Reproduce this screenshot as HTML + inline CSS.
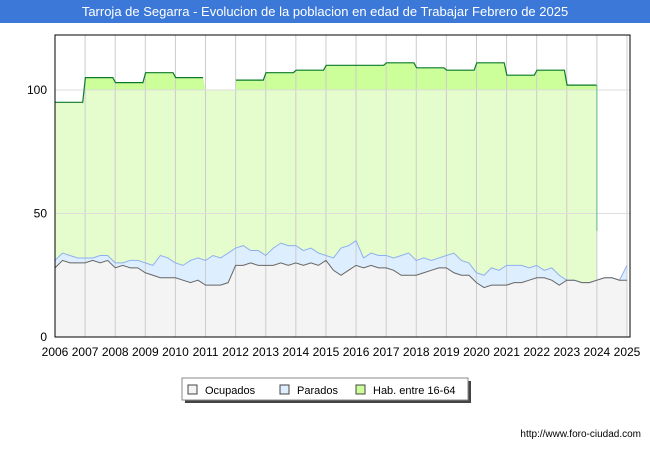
<!DOCTYPE html>
<html><head><meta charset="utf-8"><style>
body{margin:0;background:#fff;font-family:"Liberation Sans",sans-serif}
#wrap{position:relative;width:650px;height:450px;overflow:hidden}
#title{position:absolute;left:0;top:0;width:650px;height:23px;background:#3b78d8;color:#fff;font-size:13px;line-height:23px;text-align:center}
</style></head><body>
<div id="wrap">
<div id="title">Tarroja de Segarra - Evolucion de la poblacion en edad de Trabajar Febrero de 2025</div>
<svg id="svg" width="650" height="450" style="position:absolute;left:0;top:0"></svg>
</div>
<script>
const years=[2006,2007,2008,2009,2010,2011,2012,2013,2014,2015,2016,2017,2018,2019,2020,2021,2022,2023,2024,2025];
const yTicks=[0,50,100];
const habVals=[95,105,103,107,105,null,104,107,108,110,110,111,109,108,111,106,108,102];
const ocupadosVals=[28,31,30,30,30,31,30,31,28,29,28,28,26,25,24,24,24,23,22,23,21,21,21,22,29,29,30,29,29,29,30,29,30,29,30,29,31,27,25,27,29,28,29,28,28,27,25,25,25,26,27,28,28,26,25,25,22,20,21,21,21,22,22,23,24,24,23,21,23,23,22,22,23,24,24,23,23];
const paradosVals=[3,3,3,2,2,1,3,2,2,1,3,3,4,4,9,8,6,6,9,9,10,12,11,12,7,8,5,6,4,7,8,8,7,6,6,5,2,5,11,10,10,4,5,5,5,5,8,9,6,6,4,4,5,8,6,5,4,5,7,6,8,7,7,5,5,3,5,4,0,0,0,0,0,0,0,0,6];
const NS='http://www.w3.org/2000/svg';
const svg=document.getElementById('svg');
const L=55,R=630,T=35,B=337;
const x=v=>L+(v-2006)*(627-55)/19;
const y=v=>B-v*2.47;
function mk(tag,attrs,parent){const e=document.createElementNS(NS,tag);for(const k in attrs)e.setAttribute(k,attrs[k]);(parent||svg).appendChild(e);return e;}
mk('rect',{x:L,y:T,width:R-L,height:B-T,fill:'#fff'});
const defs=mk('defs',{});
const cp=mk('clipPath',{id:'above'},defs);mk('rect',{x:L,y:T,width:R-L,height:y(100)-T},cp);
const cp2=mk('clipPath',{id:'below'},defs);mk('rect',{x:L,y:y(100),width:R-L,height:B-y(100)},cp2);
let pts=[],segs=[],cur=[];
habVals.forEach((v,i)=>{const yr=years[i];
 if(v===null){pts.push([yr,100],[yr+1,100]);if(cur.length){segs.push(cur);cur=[];}return;}
 pts.push([yr+0.01,v],[yr+0.92,v]);cur.push([yr+0.01,v],[yr+0.92,v]);});
const lastH=habVals[habVals.length-1];
pts.push([2023.99,lastH],[2024.0,43]);cur.push([2023.99,lastH]);segs.push(cur);
const areaD='M'+x(2006)+','+B+' '+pts.map(p=>'L'+x(p[0]).toFixed(1)+','+y(p[1]).toFixed(1)).join(' ')+' L'+x(2024)+','+B+'Z';
const a1=mk('path',{d:areaD,fill:'#e5fdcc','clip-path':'url(#below)'});

const a2=mk('path',{d:areaD,fill:'#ccff99','clip-path':'url(#above)'});

const n=ocupadosVals.length;
const qx=i=>x(2006+i/4);
let topPts=[],oc=[];
for(let i=0;i<n;i++){topPts.push([qx(i),y(ocupadosVals[i]+paradosVals[i])]);oc.push([qx(i),y(ocupadosVals[i])]);}
const pa=mk('path',{d:'M'+topPts.map(p=>p.join(',')).join(' L')+' L'+oc.slice().reverse().map(p=>p.join(',')).join(' L')+'Z',fill:'#ddeeff'});

const oa=mk('path',{d:'M'+qx(0)+','+B+' L'+oc.map(p=>p.join(',')).join(' L')+' L'+qx(n-1)+','+B+'Z',fill:'#f4f4f4'});

years.forEach(yr=>{const g=mk('line',{x1:x(yr),x2:x(yr),y1:T,y2:B,stroke:'#cccccc','stroke-width':1});
 });
yTicks.forEach(t=>{if(t>0){const g=mk('line',{x1:L,x2:R,y1:y(t),y2:y(t),stroke:'#dddddd','stroke-width':1});
 }
 const tx=mk('text',{x:L-8,y:y(t)+4,'text-anchor':'end','font-size':12,fill:'#000'});tx.textContent=t;
 });
years.forEach(yr=>{const tx=mk('text',{x:x(yr),y:356,'text-anchor':'middle','font-size':12,fill:'#000'});tx.textContent=yr;
 });
const pl=mk('polyline',{points:topPts.map(p=>p.join(',')).join(' '),fill:'none',stroke:'#8fb0ee','stroke-width':1});

const ol=mk('polyline',{points:oc.map(p=>p.join(',')).join(' '),fill:'none',stroke:'#666','stroke-width':1});

segs.forEach(s=>{const hl=mk('polyline',{points:s.map(p=>x(p[0]).toFixed(1)+','+y(p[1]).toFixed(1)).join(' '),fill:'none',stroke:'#0a7a2a','stroke-width':1.2});
 });
const dl=mk('line',{x1:x(2024),x2:x(2024),y1:y(lastH),y2:y(43),stroke:'#66bb88','stroke-width':1});

mk('rect',{x:L,y:T,width:R-L,height:B-T,fill:'none',stroke:'#000','stroke-width':1});
const lg=mk('g',{});
mk('rect',{x:185,y:381,width:286,height:22,fill:'#444'},lg);
mk('rect',{x:182,y:378,width:286,height:22,fill:'#fff',stroke:'#888'},lg);
[['Ocupados','#f4f4f4',188],['Parados','#ddeeff',280],['Hab. entre 16-64','#ccff99',356]].forEach(e=>{
 const sw=mk('rect',{x:e[2],y:385,width:9,height:9,fill:e[1],stroke:'#444'},lg);
 
 const t=mk('text',{x:e[2]+17,y:394,'font-size':11,fill:'#000'},lg);t.textContent=e[0];
 });
const u=mk('text',{x:641,y:437,'text-anchor':'end','font-size':10,fill:'#000'});u.textContent='http://www.foro-ciudad.com';

</script>
</body></html>
